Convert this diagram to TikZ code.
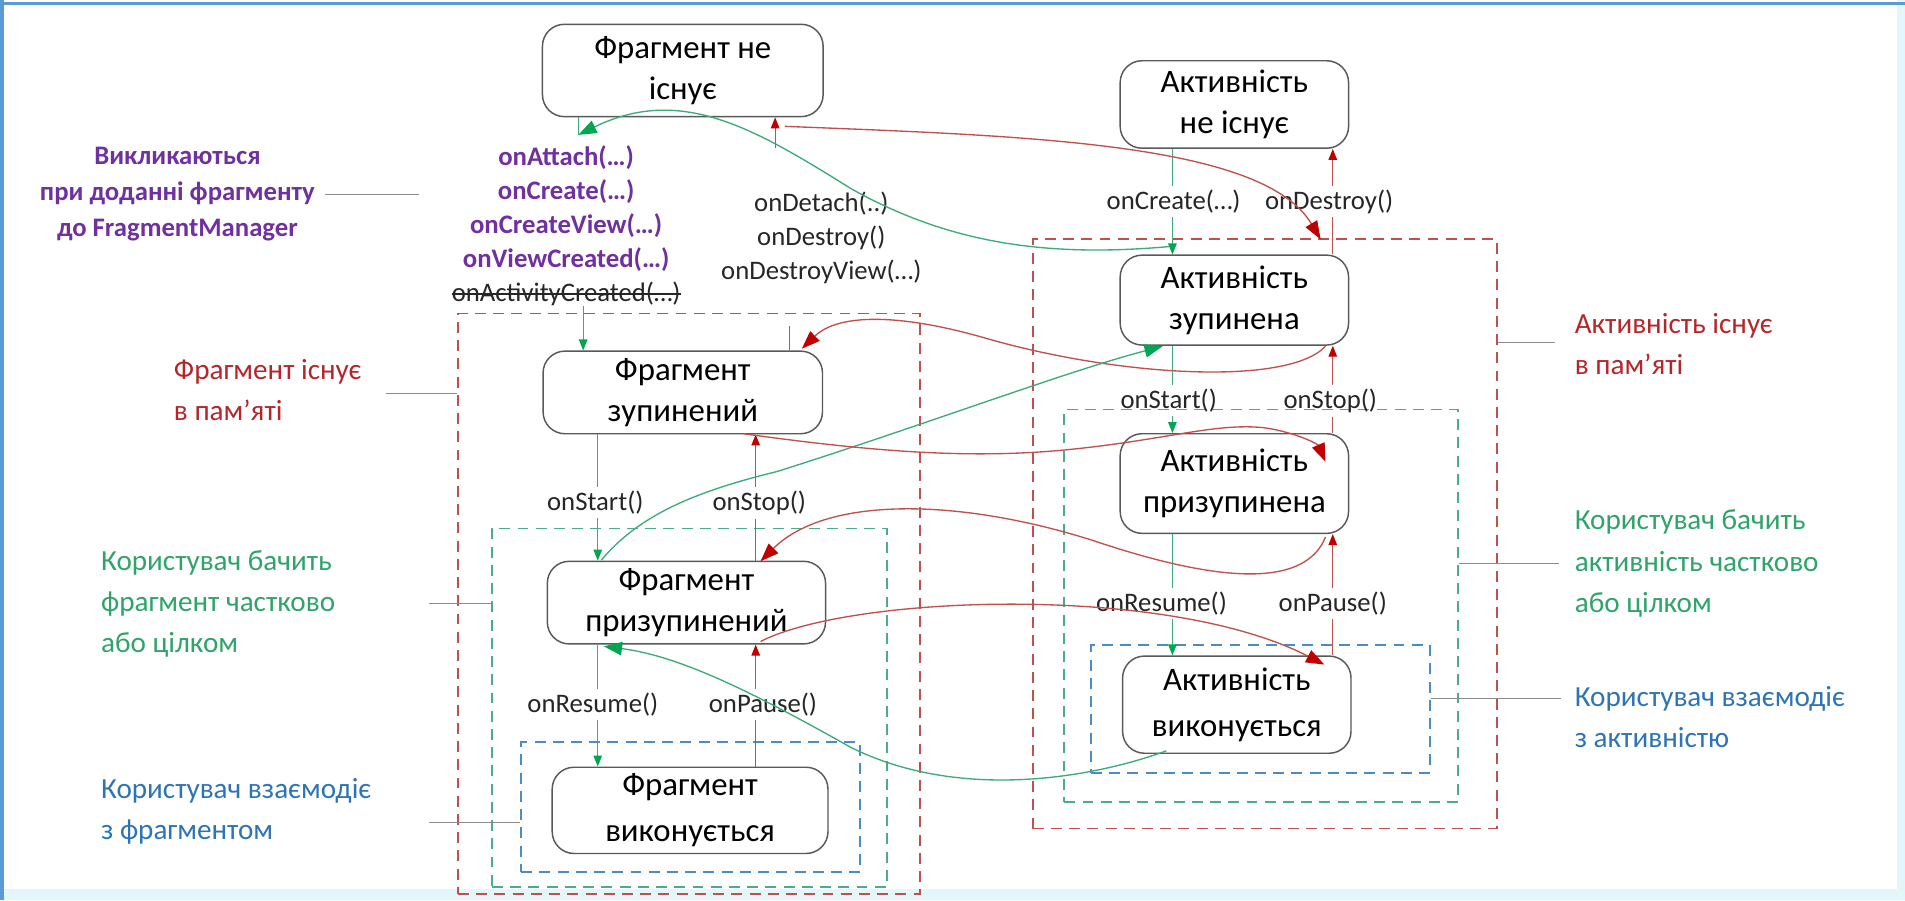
\documentclass[tikz,border=0pt]{standalone}
\usepackage{fontspec}
\setmainfont{Carlito}
\usetikzlibrary{arrows.meta}

\definecolor{framecol}{HTML}{5B9BD5}
\definecolor{edgecol}{HTML}{E3F6FA}
\definecolor{boxline}{HTML}{595959}
\definecolor{redline}{HTML}{C0504D}
\definecolor{redtip}{HTML}{C00000}
\definecolor{grnline}{HTML}{3DAA7A}
\definecolor{grntip}{HTML}{00A651}
\definecolor{redbox}{HTML}{C0504D}
\definecolor{grnbox}{HTML}{4BAC8C}
\definecolor{blubox}{HTML}{4A8CC8}
\definecolor{redtxt}{HTML}{B5262B}
\definecolor{grntxt}{HTML}{2FA46A}
\definecolor{blutxt}{HTML}{2E74B5}
\definecolor{purtxt}{HTML}{7030A0}
\definecolor{calltxt}{HTML}{262626}
\definecolor{leader}{HTML}{8C8C8C}

\tikzset{
  state/.style={draw=boxline, line width=1.2pt, rounded corners=18pt, fill=white,
    align=center, inner sep=0pt, font=\fontsize{27}{34}\selectfont},
  zone/.style={draw, dash pattern=on 9pt off 6pt, line width=1.4pt, inner sep=0pt},
  call/.style={font=\fontsize{22}{28}\selectfont, text=calltxt, align=center, inner sep=3pt},
  note/.style={font=\fontsize{24}{34}\selectfont, align=left, anchor=west, inner sep=0pt},
  gstub/.style={draw=grnline, line width=1pt},
  rstub/.style={draw=redline, line width=1pt},
  garr/.style={draw=grnline, line width=1pt, -{Triangle[length=9pt,width=7pt,color=grntip]}},
  rarr/.style={draw=redline, line width=1pt, -{Triangle[length=9pt,width=7pt,color=redtip]}},
  gcurve/.style={draw=grnline, line width=1.1pt, -{Triangle[length=15pt,width=11pt,color=grntip]}},
  rcurve/.style={draw=redline, line width=1.1pt, -{Triangle[length=15pt,width=11pt,color=redtip]}},
  lead/.style={draw=leader, line width=1pt},
}

\begin{document}
\begin{tikzpicture}[x=1pt,y=-1pt]
% page and frame
\useasboundingbox (0,0) rectangle (1568,741);
\fill[white] (0,0) rectangle (1568,741);
\fill[edgecol] (0,732) rectangle (1568,741);
\fill[edgecol] (1561,0) rectangle (1568,741);
\draw[framecol, line width=3pt] (0,3) -- (1568,3);
\draw[framecol, line width=3pt] (1.5,0) -- (1.5,741);

% nested visibility zones
\node[zone, draw=redbox, minimum width=380pt, minimum height=478pt] (fR) at (567,497) {};
\node[zone, draw=grnbox, minimum width=325pt, minimum height=295pt] (fG) at (567.5,582.5) {};
\node[zone, draw=blubox, minimum width=279pt, minimum height=107pt] (fB) at (568.5,664.5) {};
\node[zone, draw=redbox, minimum width=382pt, minimum height=485pt] (aR) at (1041,439.5) {};
\node[zone, draw=grnbox, minimum width=324pt, minimum height=323pt] (aG) at (1038,498.5) {};
\node[zone, draw=blubox, minimum width=279pt, minimum height=105pt] (aB) at (1037.5,583.5) {};

% states
\node[state, minimum width=231pt, minimum height=76pt] (fne) at (562,58) {Фрагмент не\\існує};
\node[state, minimum width=230pt, minimum height=68pt] (fzu) at (562,323) {Фрагмент\\зупинений};
\node[state, minimum width=229pt, minimum height=68pt] (fpr) at (565,496) {Фрагмент\\призупинений};
\node[state, minimum width=227pt, minimum height=71pt, font=\fontsize{27}{38}\selectfont] (fvy) at (568,667) {Фрагмент\\виконується};
\node[state, minimum width=188pt, minimum height=72pt] (ane) at (1016,86) {Активність\\не існує};
\node[state, minimum width=188pt, minimum height=74pt] (azu) at (1016,247) {Активність\\зупинена};
\node[state, minimum width=188pt, minimum height=82pt] (apr) at (1016,398) {Активність\\призупинена};
\node[state, minimum width=188pt, minimum height=80pt, font=\fontsize{27}{38}\selectfont] (avy) at (1018,580) {Активність\\виконується};

% column positions of the vertical transitions
\coordinate (fL) at (492,0);
\coordinate (fRt) at (622,0);
\coordinate (aL) at (965,0);
\coordinate (aRt) at (1097,0);

% fragment callbacks
\node[call, font=\fontsize{22}{28}\selectfont\bfseries, text=purtxt] (cbs) at (466,172) {onAttach(…)\\onCreate(…)\\onCreateView(…)\\onViewCreated(…)};
\node[call, inner sep=0pt] (cbx) at (466,242) {onActivityCreated(…)};
\draw[calltxt, line width=1.1pt] (cbx.west) -- (cbx.east);
\node[call] (dcb) at (676,196) {onDetach(..)\\onDestroy()\\onDestroyView(…)};

\node[call] (fstart) at (490,414) {onStart()};
\node[call] (fstop) at (625,414) {onStop()};
\node[call] (fres) at (488,580) {onResume()};
\node[call] (fpau) at (628,580) {onPause()};

\node[call] (acre) at (966,166) {onCreate(…)};
\node[call] (ades) at (1094,166) {onDestroy()};
\node[call] (astart) at (962,330) {onStart()};
\node[call] (astop) at (1095,330) {onStop()};
\node[call] (ares) at (956,497) {onResume()};
\node[call] (apau) at (1097,497) {onPause()};

% side notes
\node[font=\fontsize{22}{29.5}\selectfont\bfseries, text=purtxt, align=center, inner sep=0pt] (nadd) at (146,160) {Викликаються\\при доданні фрагменту\\до FragmentManager};
\node[note, text=redtxt] (nfR) at (143,321) {Фрагмент існує\\в пам’яті};
\node[note, text=grntxt] (nfG) at (83,497) {Користувач бачить\\фрагмент частково\\або цілком};
\node[note, text=blutxt] (nfB) at (83,668) {Користувач взаємодіє\\з фрагментом};
\node[note, text=redtxt] (naR) at (1296,283) {Активність існує\\в пам’яті};
\node[note, text=grntxt] (naG) at (1296,464) {Користувач бачить\\активність частково\\або цілком};
\node[note, text=blutxt] (naB) at (1296,590) {Користувач взаємодіє\\з активністю};

% leader lines from the notes
\coordinate (lAdd) at (345,160);
\coordinate (lfR) at (318,324);
\coordinate (lfG) at (353,497);
\coordinate (lfB) at (353,677);
\draw[lead] (nadd.east |- lAdd) ++(8,0) -- (lAdd);
\draw[lead] (lfR) -- (fR.west |- lfR);
\draw[lead] (lfG) -- (fG.west |- lfG);
\draw[lead] (lfB) -- (fB.west |- lfB);
\draw[lead] (aR.east |- 0,282) -- ([xshift=-16pt]naR.west |- 0,282);
\draw[lead] (aG.east |- naG.west) -- ([xshift=-13pt]naG.west);
\draw[lead] (aB.east |- 0,575) -- ([xshift=-11pt]naB.west |- 0,575);

% fragment: creation and destruction
\coordinate (cbTop) at (476,111);
\coordinate (dRise) at (650,268);
\coordinate (dTop) at (638,122);
\draw[gstub] (fne.south -| cbTop) -- (cbTop);
\draw[garr] (cbx.south -| 480,0) -- (fzu.north -| 480,0);
\draw[rstub] (fzu.north -| dRise) -- (dRise);
\draw[rarr] (dTop) -- (fne.south -| dTop);

% fragment: start / stop
\draw[gstub] (fzu.south -| fL) -- (fstart.north -| fL);
\draw[garr] (fstart.south -| fL) -- (fpr.north -| fL);
\draw[rstub] (fpr.north -| fRt) -- (fstop.south -| fRt);
\draw[rarr] (fstop.north -| fRt) -- (fzu.south -| fRt);
% fragment: resume / pause
\draw[gstub] (fpr.south -| fL) -- (fres.north -| fL);
\draw[garr] (fres.south -| fL) -- (fvy.north -| fL);
\draw[rstub] (fvy.north -| fRt) -- (fpau.south -| fRt);
\draw[rarr] (fpau.north -| fRt) -- (fpr.south -| fRt);

% activity: create / destroy
\draw[gstub] (ane.south -| aL) -- (acre.north -| aL);
\draw[garr] (acre.south -| aL) -- (azu.north -| aL);
\draw[rstub] (azu.north -| aRt) -- (ades.south -| aRt);
\draw[rarr] (ades.north -| aRt) -- (ane.south -| aRt);
% activity: start / stop
\draw[gstub] (azu.south -| aL) -- (astart.north -| aL);
\draw[garr] (astart.south -| aL) -- (apr.north -| aL);
\draw[rstub] (apr.north -| aRt) -- (astop.south -| aRt);
\draw[rarr] (astop.north -| aRt) -- (azu.south -| aRt);
% activity: resume / pause
\draw[gstub] (apr.south -| aL) -- (ares.north -| aL);
\draw[garr] (ares.south -| aL) -- (avy.north -| aL);
\draw[rstub] (avy.north -| aRt) -- (apau.south -| aRt);
\draw[rarr] (apau.north -| aRt) -- (apr.south -| aRt);

% links between activity and fragment lifecycles
\coordinate (g1s) at (962,203);
\coordinate (r1s) at (646,104);
\coordinate (r1e) at (1087,197);
\coordinate (r2s) at (1091,285);
\coordinate (r2e) at (660,287);
\coordinate (g2s) at (495,461);
\coordinate (g2e) at (957,285);
\coordinate (r3s) at (612,357);
\coordinate (r3e) at (1091,380);
\coordinate (r4s) at (1091,442);
\coordinate (r4e) at (626,462);
\coordinate (r5s) at (626,528);
\coordinate (r5e) at (1090,547);
\coordinate (g3s) at (960,618);
\coordinate (g3e) at (497,532);

\draw[gcurve] (g1s) .. controls (860,212) and (780,200) .. (700,155) .. controls (620,105) and (560,70) .. (cbTop);
\draw[rcurve] (r1s) .. controls (850,112) and (1040,118) .. (r1e);
\draw[rcurve] (r2s) .. controls (1060,318) and (920,310) .. (810,278) .. controls (740,258) and (690,258) .. (r2e);
\draw[gcurve] (g2s) .. controls (525,425) and (570,405) .. (640,388) .. controls (760,350) and (880,305) .. (g2e);
\draw[rcurve] (r3s) .. controls (720,372) and (800,378) .. (880,370) .. controls (960,362) and (1000,348) .. (1040,352) .. controls (1068,356) and (1085,366) .. (r3e);
\draw[rcurve] (r4s) .. controls (1075,482) and (1010,482) .. (900,445) .. controls (790,410) and (680,408) .. (r4e);
\draw[rcurve] (r5s) .. controls (700,490) and (960,480) .. (r5e);
\draw[gcurve] (g3s) .. controls (900,640) and (790,660) .. (700,615) .. controls (620,570) and (560,540) .. (g3e);
\end{tikzpicture}
\end{document}
